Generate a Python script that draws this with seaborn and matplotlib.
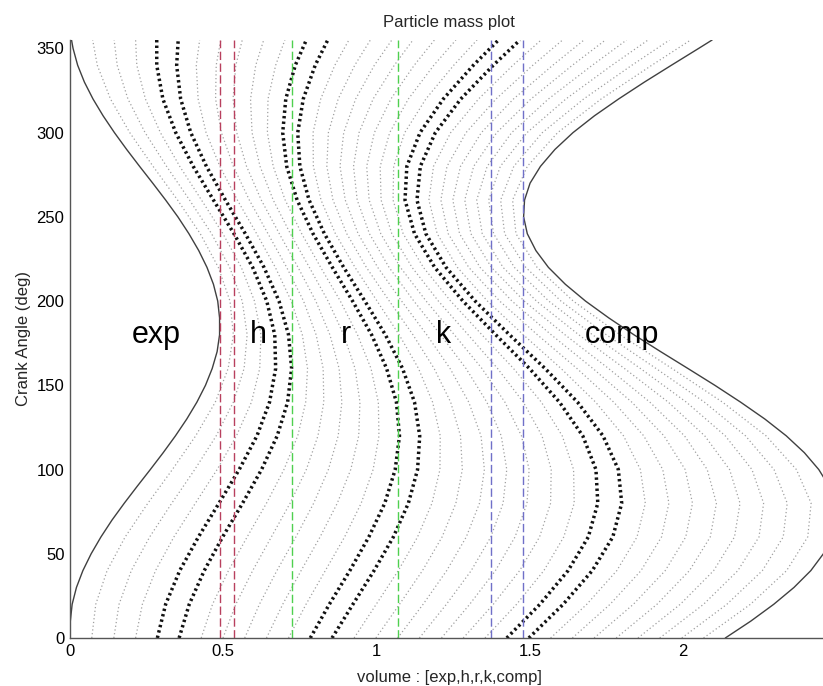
import matplotlib
matplotlib.use("Agg")
import matplotlib.pyplot as plt
import pandas as pd
import seaborn as sns

# ---------------- data ----------------
crank_angle_fine = [0, 10, 20, 30, 40, 50, 60, 70, 80, 90, 100, 110, 120, 130, 140, 150, 160, 170,
                    180, 190, 200, 210, 220, 230, 240, 250, 260, 270, 280, 290, 300, 310, 320, 330,
                    340, 350, 355]
exp_boundary = [0.000, 0.001, 0.007, 0.021, 0.042, 0.069, 0.101, 0.137, 0.177, 0.219, 0.262, 0.304,
                0.344, 0.381, 0.414, 0.442, 0.464, 0.480, 0.488, 0.488, 0.482, 0.468, 0.447, 0.420,
                0.388, 0.352, 0.312, 0.270, 0.227, 0.185, 0.145, 0.108, 0.075, 0.047, 0.025, 0.010,
                0.005]
comp_boundary = [2.138, 2.221, 2.296, 2.362, 2.417, 2.458, 2.486, 2.498, 2.495, 2.477, 2.443, 2.396,
                 2.337, 2.267, 2.188, 2.104, 2.016, 1.927, 1.840, 1.758, 1.682, 1.616, 1.561, 1.520,
                 1.492, 1.480, 1.483, 1.501, 1.535, 1.582, 1.641, 1.711, 1.790, 1.874, 1.962, 2.051,
                 2.095]

region_edges = [0.489, 0.535, 0.723, 1.071, 1.372, 1.479]
region_edge_colors = ["#b8405e", "#b8405e", "#4fd04f", "#4fd04f", "#7070c8", "#7070c8"]
region_labels = ["exp", "h", "r", "k", "comp"]
region_label_x = [0.28, 0.615, 0.90, 1.22, 1.80]
region_label_y = 180

# particle positions (particles 1..29) at each crank angle
particle_angles = [0, 20, 40, 60, 80, 100, 120, 140, 160, 180, 200, 220, 240, 260, 280, 300, 320, 340, 355]
pos_000 = [0.071, 0.143, 0.214, 0.285, 0.356, 0.428, 0.499, 0.570, 0.641, 0.713, 0.784, 0.855, 0.927, 0.998, 1.069,
           1.140, 1.212, 1.283, 1.354, 1.425, 1.497, 1.568, 1.639, 1.710, 1.782, 1.853, 1.924, 1.996, 2.067]
pos_020 = [0.084, 0.160, 0.236, 0.312, 0.389, 0.465, 0.541, 0.618, 0.694, 0.770, 0.846, 0.923, 0.999, 1.075, 1.152,
           1.228, 1.304, 1.381, 1.457, 1.533, 1.609, 1.686, 1.762, 1.838, 1.915, 1.991, 2.067, 2.143, 2.220]
pos_040 = [0.121, 0.200, 0.279, 0.358, 0.438, 0.517, 0.596, 0.675, 0.754, 0.833, 0.913, 0.992, 1.071, 1.150, 1.229,
           1.309, 1.388, 1.467, 1.546, 1.625, 1.704, 1.784, 1.863, 1.942, 2.021, 2.100, 2.179, 2.259, 2.338]
pos_060 = [0.180, 0.260, 0.339, 0.419, 0.498, 0.578, 0.657, 0.737, 0.816, 0.896, 0.975, 1.055, 1.134, 1.214, 1.293,
           1.373, 1.452, 1.532, 1.611, 1.691, 1.771, 1.850, 1.930, 2.009, 2.089, 2.168, 2.248, 2.327, 2.407]
pos_080 = [0.254, 0.332, 0.409, 0.486, 0.563, 0.641, 0.718, 0.795, 0.872, 0.950, 1.027, 1.104, 1.181, 1.259, 1.336,
           1.413, 1.491, 1.568, 1.645, 1.722, 1.800, 1.877, 1.954, 2.031, 2.109, 2.186, 2.263, 2.340, 2.418]
pos_100 = [0.334, 0.407, 0.480, 0.552, 0.625, 0.698, 0.771, 0.843, 0.916, 0.989, 1.061, 1.134, 1.207, 1.280, 1.352,
           1.425, 1.498, 1.570, 1.643, 1.716, 1.789, 1.861, 1.934, 2.007, 2.079, 2.152, 2.225, 2.297, 2.370]
pos_120 = [0.410, 0.477, 0.543, 0.610, 0.676, 0.743, 0.809, 0.875, 0.942, 1.008, 1.075, 1.141, 1.208, 1.274, 1.341,
           1.407, 1.473, 1.540, 1.606, 1.673, 1.739, 1.806, 1.872, 1.938, 2.005, 2.071, 2.138, 2.204, 2.271]
pos_140 = [0.474, 0.533, 0.592, 0.651, 0.710, 0.769, 0.828, 0.887, 0.946, 1.006, 1.065, 1.124, 1.183, 1.242, 1.301,
           1.360, 1.419, 1.479, 1.538, 1.597, 1.656, 1.715, 1.774, 1.833, 1.892, 1.952, 2.011, 2.070, 2.129]
pos_160 = [0.516, 0.568, 0.619, 0.671, 0.723, 0.775, 0.826, 0.878, 0.930, 0.982, 1.033, 1.085, 1.137, 1.188, 1.240,
           1.292, 1.344, 1.395, 1.447, 1.499, 1.550, 1.602, 1.654, 1.706, 1.757, 1.809, 1.861, 1.912, 1.964]
pos_180 = [0.533, 0.578, 0.623, 0.668, 0.713, 0.758, 0.803, 0.848, 0.893, 0.938, 0.984, 1.029, 1.074, 1.119, 1.164,
           1.209, 1.254, 1.299, 1.344, 1.389, 1.434, 1.479, 1.525, 1.570, 1.615, 1.660, 1.705, 1.750, 1.795]
pos_200 = [0.522, 0.562, 0.602, 0.642, 0.682, 0.722, 0.762, 0.802, 0.842, 0.882, 0.922, 0.962, 1.002, 1.042, 1.082,
           1.122, 1.162, 1.202, 1.242, 1.282, 1.322, 1.362, 1.402, 1.442, 1.482, 1.522, 1.562, 1.602, 1.642]
pos_220 = [0.484, 0.521, 0.559, 0.596, 0.633, 0.670, 0.707, 0.744, 0.781, 0.818, 0.856, 0.893, 0.930, 0.967, 1.004,
           1.041, 1.078, 1.116, 1.153, 1.190, 1.227, 1.264, 1.301, 1.338, 1.375, 1.413, 1.450, 1.487, 1.524]
pos_240 = [0.425, 0.462, 0.499, 0.535, 0.572, 0.609, 0.646, 0.683, 0.719, 0.756, 0.793, 0.830, 0.866, 0.903, 0.940,
           0.977, 1.014, 1.050, 1.087, 1.124, 1.161, 1.198, 1.234, 1.271, 1.308, 1.345, 1.382, 1.418, 1.455]
pos_260 = [0.351, 0.390, 0.429, 0.468, 0.507, 0.546, 0.585, 0.624, 0.663, 0.702, 0.741, 0.780, 0.819, 0.858, 0.898,
           0.937, 0.976, 1.015, 1.054, 1.093, 1.132, 1.171, 1.210, 1.249, 1.288, 1.327, 1.366, 1.405, 1.444]
pos_280 = [0.271, 0.315, 0.358, 0.402, 0.445, 0.489, 0.533, 0.576, 0.620, 0.663, 0.707, 0.750, 0.794, 0.838, 0.881,
           0.925, 0.968, 1.012, 1.056, 1.099, 1.143, 1.186, 1.230, 1.274, 1.317, 1.361, 1.404, 1.448, 1.492]
pos_300 = [0.195, 0.245, 0.295, 0.345, 0.394, 0.444, 0.494, 0.544, 0.594, 0.644, 0.694, 0.743, 0.793, 0.843, 0.893,
           0.943, 0.993, 1.043, 1.092, 1.142, 1.192, 1.242, 1.292, 1.342, 1.392, 1.441, 1.491, 1.541, 1.591]
pos_320 = [0.132, 0.189, 0.246, 0.303, 0.361, 0.418, 0.475, 0.532, 0.589, 0.646, 0.704, 0.761, 0.818, 0.875, 0.932,
           0.989, 1.047, 1.104, 1.161, 1.218, 1.275, 1.333, 1.390, 1.447, 1.504, 1.561, 1.618, 1.676, 1.733]
pos_340 = [0.089, 0.154, 0.218, 0.283, 0.348, 0.412, 0.477, 0.541, 0.606, 0.671, 0.735, 0.800, 0.864, 0.929, 0.993,
           1.058, 1.123, 1.187, 1.252, 1.316, 1.381, 1.445, 1.510, 1.575, 1.639, 1.704, 1.768, 1.833, 1.898]
pos_355 = [0.074, 0.144, 0.214, 0.283, 0.353, 0.423, 0.492, 0.562, 0.632, 0.701, 0.771, 0.841, 0.910, 0.980, 1.050,
           1.119, 1.189, 1.259, 1.328, 1.398, 1.468, 1.537, 1.607, 1.677, 1.747, 1.816, 1.886, 1.956, 2.025]
particle_positions = [pos_000, pos_020, pos_040, pos_060, pos_080, pos_100, pos_120, pos_140, pos_160, pos_180,
                      pos_200, pos_220, pos_240, pos_260, pos_280, pos_300, pos_320, pos_340, pos_355]
highlighted_particles = [4, 5, 11, 12, 20, 21]

x_ticks = [0, 0.5, 1, 1.5, 2]
x_tick_labels = ["0", "0.5", "1", "1.5", "2"]
y_ticks = [0, 50, 100, 150, 200, 250, 300, 350]

# ---------------- tables ----------------
rows = []
for ang, xs in zip(particle_angles, particle_positions):
    for k, x in enumerate(xs, start=1):
        rows.append((k, ang, x))
particles = pd.DataFrame(rows, columns=["particle", "angle", "volume"])
particles = particles.sort_values(["particle", "angle"], kind="stable").reset_index(drop=True)
thin = particles[~particles["particle"].isin(highlighted_particles)]
thick = particles[particles["particle"].isin(highlighted_particles)]

bounds = pd.DataFrame({"angle": crank_angle_fine, "left": exp_boundary, "right": comp_boundary})

# ---------------- figure ----------------
sns.set_theme(style="white")
plt.rcParams["font.family"] = ["Liberation Sans", "DejaVu Sans"]

fig = plt.figure(figsize=(8.23, 6.86), dpi=100)
ax = fig.add_axes([70 / 823, 48 / 686, 758 / 823, 598 / 686])

sns.lineplot(data=thin, x="volume", y="angle", units="particle", estimator=None, sort=False,
             color="#a0a0a0", linestyle=(0, (1, 2)), linewidth=0.9, ax=ax)
sns.lineplot(data=thick, x="volume", y="angle", units="particle", estimator=None, sort=False,
             color="#111111", linestyle=(0, (0.7, 0.9)), linewidth=2.5, ax=ax)
sns.lineplot(data=bounds, x="left", y="angle", estimator=None, sort=False,
             color="#404040", linewidth=1.0, ax=ax)
sns.lineplot(data=bounds, x="right", y="angle", estimator=None, sort=False,
             color="#404040", linewidth=1.0, ax=ax)

for xv, c in zip(region_edges, region_edge_colors):
    ax.axvline(xv, color=c, linestyle=(0, (6, 2.5)), linewidth=1.0)

for lab, lx in zip(region_labels, region_label_x):
    ax.text(lx, region_label_y, lab, fontsize=22, ha="center", va="center", color="black")

ax.set_xlim(0, 758 / 306.5)
ax.set_ylim(0, 355)
ax.set_xticks(x_ticks)
ax.set_xticklabels(x_tick_labels)
ax.set_yticks(y_ticks)
ax.tick_params(direction="in", length=5, width=0.8, color="#404040", labelsize=12, labelcolor="black", pad=4)
for s in ["top", "right"]:
    ax.spines[s].set_visible(False)
for s in ["left", "bottom"]:
    ax.spines[s].set_color("#555555")
    ax.spines[s].set_linewidth(1.0)

ax.set_xlabel("volume : [exp,h,r,k,comp]", fontsize=12, labelpad=8)
ax.set_ylabel("Crank Angle (deg)", fontsize=12, labelpad=4)
ax.set_title("Particle mass plot", fontsize=12, pad=9)

fig.savefig("out.png", dpi=100)
